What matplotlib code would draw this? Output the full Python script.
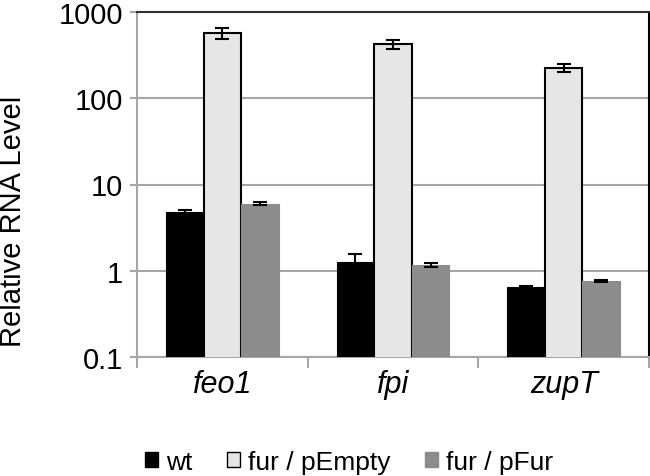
import matplotlib
matplotlib.use("Agg")
import matplotlib.pyplot as plt
import numpy as np
from matplotlib.patches import Patch

plt.rcParams['font.family'] = ['Liberation Sans', 'DejaVu Sans']

genes = ["feo1", "fpi", "zupT"]
series = ["wt", "fur / pEmpty", "fur / pFur"]
wt = [4.85, 1.28, 0.64]
wt_err = [0.25, 0.27, 0.02]
pempty = [570, 421, 227]
pempty_err = [80, 50, 23]
pfur = [5.97, 1.17, 0.77]
pfur_err = [0.25, 0.07, 0.02]

colors = ["#000000", "#e6e6e6", "#8c8c8c"]
edges = ["#000000", "#000000", "#8c8c8c"]

fig = plt.figure(figsize=(6.5, 4.77), dpi=100)
ax = fig.add_axes([137/650, 1-358/477, (649-137)/650, (358-13)/477])

x = np.arange(len(genes))
w = 0.22
for i, (vals, errs) in enumerate([(wt, wt_err), (pempty, pempty_err), (pfur, pfur_err)]):
    ax.bar(x + (i-1)*w, vals, width=w, color=colors[i], edgecolor=edges[i],
           linewidth=1.5 if i == 1 else 0.8, zorder=3, label=series[i])
    ax.errorbar(x + (i-1)*w, vals, yerr=errs, fmt='none', ecolor='black',
                elinewidth=1.5, capsize=5, capthick=1.5, zorder=4)

ax.set_yscale('log')
ax.set_ylim(0.1, 1000)
ax.set_xlim(-0.5, 2.5)
ax.set_yticks([0.1, 1, 10, 100, 1000])
ax.set_yticklabels(["0.1", "1", "10", "100", "1000"])
ax.yaxis.set_minor_locator(matplotlib.ticker.NullLocator())
ax.grid(axis='y', which='major', color='#a6a6a6', linewidth=1.5, zorder=0)

ax.set_xticks(x)
ax.set_xticklabels(genes, fontstyle='italic', fontsize=22)
ax.set_xticks([-0.5, 0.5, 1.5, 2.5], minor=True)
ax.tick_params(axis='x', which='major', length=0, pad=9)
ax.tick_params(axis='x', which='minor', length=8, width=1.5, color='#a6a6a6', direction='out')
ax.tick_params(axis='y', which='major', length=5, width=1.5, color='#a6a6a6', labelsize=21, pad=5)

ax.spines['left'].set_color('#a6a6a6')
ax.spines['left'].set_linewidth(1.5)
ax.spines['bottom'].set_color('#a6a6a6')
ax.spines['bottom'].set_linewidth(1.5)
ax.spines['top'].set_color('#303030')
ax.spines['top'].set_linewidth(1.5)
ax.spines['right'].set_color('#000000')
ax.spines['right'].set_linewidth(1.5)

ax.set_ylabel("Relative RNA Level", fontsize=21, labelpad=6)
ax.yaxis.set_label_coords((27-137)/512, (358-221)/345)

handles = [Patch(facecolor=colors[i], edgecolor='black' if i < 2 else colors[i], linewidth=1.0)
           for i in range(3)]
fig.legend(handles, series, loc='center', bbox_to_anchor=(349/650, 1-463/477), ncol=3,
           frameon=False, fontsize=19, handlelength=0.5, handleheight=0.5,
           handletextpad=0.3, columnspacing=1.3)

fig.savefig("out.png", dpi=100)
